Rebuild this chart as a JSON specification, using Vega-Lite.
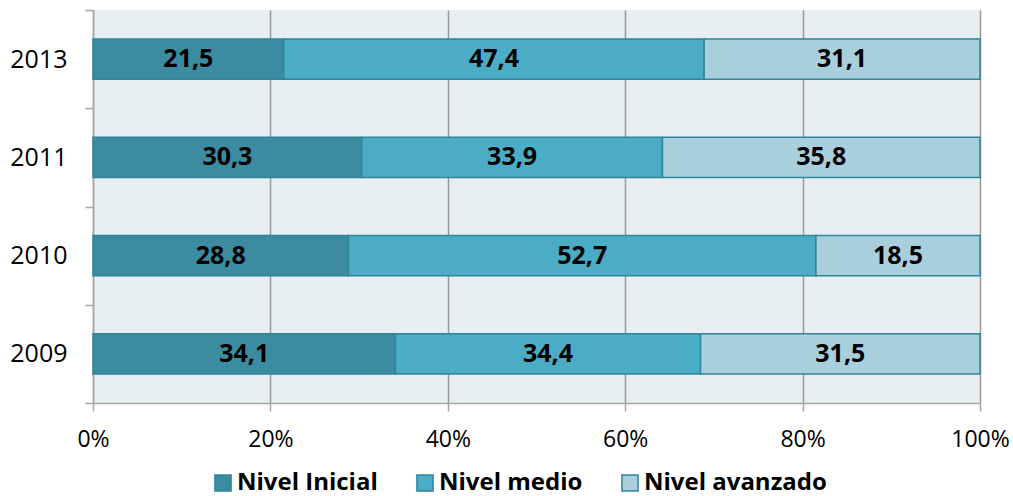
{
  "$schema": "https://vega.github.io/schema/vega-lite/v6.json",
  "width": 887,
  "height": 393,
  "autosize": {"type": "none"},
  "padding": {"left": 93, "top": 10, "right": 33, "bottom": 93},
  "background": "#ffffff",
  "config": {
    "locale": {"number": {"decimal": ",", "thousands": ".", "grouping": [3], "currency": ["", " €"]}},
    "view": {"fill": "#e8eff3", "stroke": null},
    "font": "Open Sans"
  },
  "data": {
    "values": [
      {"year": "2013", "nivel": "Nivel Inicial", "value": 21.5},
      {"year": "2013", "nivel": "Nivel medio", "value": 47.4},
      {"year": "2013", "nivel": "Nivel avanzado", "value": 31.1},
      {"year": "2011", "nivel": "Nivel Inicial", "value": 30.3},
      {"year": "2011", "nivel": "Nivel medio", "value": 33.9},
      {"year": "2011", "nivel": "Nivel avanzado", "value": 35.8},
      {"year": "2010", "nivel": "Nivel Inicial", "value": 28.8},
      {"year": "2010", "nivel": "Nivel medio", "value": 52.7},
      {"year": "2010", "nivel": "Nivel avanzado", "value": 18.5},
      {"year": "2009", "nivel": "Nivel Inicial", "value": 34.1},
      {"year": "2009", "nivel": "Nivel medio", "value": 34.4},
      {"year": "2009", "nivel": "Nivel avanzado", "value": 31.5}
    ]
  },
  "transform": [
    {"calculate": "indexof(['Nivel Inicial','Nivel medio','Nivel avanzado'], datum.nivel)", "as": "k"},
    {"stack": "value", "groupby": ["year"], "sort": [{"field": "k", "order": "ascending"}], "as": ["v0", "v1"]},
    {"calculate": "(datum.v0 + datum.v1) / 2", "as": "mid"}
  ],
  "encoding": {
    "y": {
      "field": "year", "type": "nominal",
      "sort": ["2013", "2011", "2010", "2009"],
      "scale": {"paddingInner": 0, "paddingOuter": 0},
      "axis": {
        "title": null, "grid": false, "tickBand": "extent",
        "domainColor": "#a6a6a6", "domainWidth": 1.5,
        "tickColor": "#a6a6a6", "tickWidth": 1.5, "tickSize": 8,
        "labelFont": "Open Sans", "labelFontSize": 25, "labelColor": "#000000",
        "labelPadding": 18
      }
    }
  },
  "layer": [
    {
      "mark": {"type": "bar", "stroke": "#31849b", "strokeWidth": 1.5, "height": {"band": 0.41}},
      "encoding": {
        "x": {
          "field": "v0", "type": "quantitative",
          "scale": {"domain": [0, 100], "nice": false},
          "axis": {
            "title": null, "values": [0, 20, 40, 60, 80, 100],
            "labelExpr": "datum.value + '%'",
            "grid": true, "gridColor": "#999999", "gridWidth": 1.5,
            "domainColor": "#a6a6a6", "domainWidth": 1.5,
            "tickColor": "#a6a6a6", "tickWidth": 1.5, "tickSize": 8,
            "labelFont": "Open Sans", "labelFontSize": 23, "labelColor": "#000000",
            "labelPadding": 17, "labelFlush": false
          }
        },
        "x2": {"field": "v1"},
        "color": {
          "field": "nivel", "type": "nominal",
          "scale": {
            "domain": ["Nivel Inicial", "Nivel medio", "Nivel avanzado"],
            "range": ["#3b8ba1", "#4bacc6", "#a9cfdc"]
          },
          "legend": {
            "title": null, "orient": "none", "direction": "horizontal",
            "legendX": 118, "legendY": 461,
            "symbolType": "square", "symbolSize": 260, "symbolStrokeColor": "#31849b",
            "symbolStrokeWidth": 1.5, "labelLimit": 0,
            "labelFont": "Open Sans", "labelFontWeight": "bold", "labelFontSize": 24,
            "labelColor": "#000000", "columnPadding": 35, "labelOffset": 2
          }
        }
      }
    },
    {
      "mark": {"type": "text", "fontWeight": "bold", "fontSize": 25, "font": "Open Sans", "color": "#000000"},
      "encoding": {
        "x": {"field": "mid", "type": "quantitative"},
        "text": {"field": "value", "type": "quantitative", "format": ".1f"}
      }
    }
  ]
}
